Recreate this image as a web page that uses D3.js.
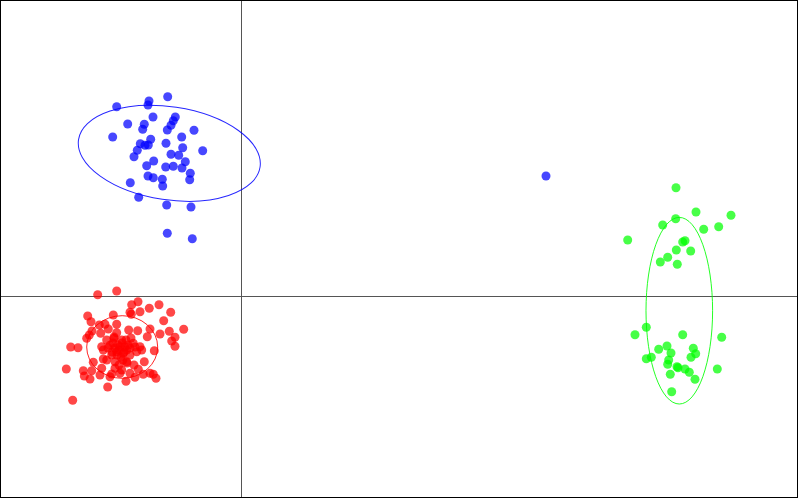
<!DOCTYPE html>
<html><head><meta charset="utf-8">
<script src="https://cdn.jsdelivr.net/npm/d3@7"></script>
<style>html,body{margin:0;padding:0;background:#fff;}svg{display:block;}</style>
</head><body>
<svg id="chart" width="798" height="498"></svg>
<script>
const groups = ["A", "B", "C"];
const groupColors = ["#ff0000", "#0000ff", "#00ff00"];

const blueX = [-12.43,-9.20,-9.30,-7.33,-8.80,-6.57,-6.77,-7.00,-7.37,-11.33,-9.67,-9.83,-4.70,-12.83,-5.93,-9.03,-10.07,-9.60,-9.27,-7.50,-5.83,-3.83,-10.37,-10.70,-7.00,-6.23,-8.73,-5.57,-9.43,-7.53,-6.77,-5.90,-5.07,-9.30,-8.77,-7.87,-5.13,-11.07,-7.83,-10.23,-7.43,-5.00,-7.37,-4.87,30.50];
const blueY = [18.93,19.50,19.10,19.93,17.90,17.90,17.53,17.07,16.60,17.20,17.17,16.67,16.57,15.90,15.90,15.67,15.23,15.07,15.10,15.27,14.83,14.53,14.57,13.93,14.17,14.07,13.50,13.43,13.03,12.90,12.97,12.80,12.27,12.00,11.83,11.67,11.63,11.33,11.00,9.87,9.10,8.90,6.27,5.73,12.00];

const redX = [-14.33,-12.43,-10.93,-10.30,-9.17,-8.20,-10.10,-11.10,-10.97,-7.03,-15.33,-12.77,-15.00,-7.73,-14.17,-13.60,-12.43,-5.73,-9.10,-7.17,-14.90,-14.03,-13.27,-10.33,-11.23,-8.10,-12.43,-15.17,-15.43,-6.60,-9.37,-6.93,-6.60,-12.70,-11.93,-10.77,-17.03,-16.30,-13.43,-13.10,-13.93,-12.10,-10.10,-8.67,-9.93,-11.43,-12.43,-13.77,-11.10,-10.43,-12.93,-11.77,-13.77,-14.77,-12.60,-11.43,-9.67,-10.70,-13.43,-17.47,-15.77,-14.93,-13.93,-12.60,-11.93,-10.27,-15.67,-15.10,-14.10,-13.10,-12.93,-12.10,-11.10,-10.60,-9.77,-9.10,-8.77,-8.50,-11.50,-13.33,-16.83,-12.30,-11.90,-11.60,-12.20,-12.60,-11.30,-11.70,-12.40,-12.00,-12.80,-11.50,-11.10,-12.90,-10.60,-11.80,-13.30,-11.00,-11.40,-12.20,-12.70];
const redY = [0.13,0.50,-0.87,-0.57,-1.23,-0.87,-1.57,-1.63,-1.83,-1.63,-2.00,-1.90,-2.57,-2.47,-2.90,-2.83,-2.83,-3.33,-3.30,-3.53,-3.50,-3.73,-3.30,-3.47,-3.40,-3.80,-3.67,-3.90,-4.23,-4.13,-4.07,-4.50,-5.03,-4.23,-4.40,-4.73,-5.10,-5.17,-4.40,-4.93,-5.07,-5.07,-5.07,-5.47,-5.40,-5.40,-5.57,-5.40,-5.90,-5.57,-5.90,-5.73,-6.30,-6.63,-6.57,-6.57,-6.57,-6.90,-6.40,-7.30,-7.47,-7.47,-7.23,-7.23,-7.40,-7.33,-8.00,-8.30,-7.90,-8.07,-7.80,-7.73,-7.73,-8.13,-7.83,-7.73,-7.83,-8.23,-8.53,-9.10,-10.43,-4.90,-4.70,-5.10,-5.40,-5.20,-4.90,-5.60,-5.90,-6.10,-4.70,-4.40,-5.20,-5.60,-5.10,-6.40,-5.20,-4.20,-6.70,-6.90,-4.10];

const greenX = [43.50,45.50,49.00,43.47,42.17,47.77,46.27,38.67,44.40,44.17,43.53,44.97,42.67,41.93,43.63,40.53,39.40,44.17,48.07,42.60,41.77,45.23,43.00,45.47,45.00,40.53,41.03,42.77,42.67,43.60,44.40,44.83,47.63,42.93,45.40,43.07,43.70];
const greenY = [10.83,8.40,8.07,7.73,7.10,6.93,6.67,5.60,5.53,5.40,4.60,4.50,3.87,3.40,3.17,-3.13,-3.87,-3.87,-4.13,-5.00,-5.33,-5.23,-5.70,-5.77,-6.13,-6.27,-6.13,-6.40,-6.83,-7.07,-7.30,-7.63,-7.30,-7.83,-8.33,-9.57,-7.17];

// ellipse parameters per group: centre, semi-axes (data units), rotation (deg, counter-clockwise)
const ellCX = [-11.88, -7.17, 43.83];
const ellCY = [-5.10, 14.27, -1.47];
const ellRX = [3.55, 9.18, 3.33];
const ellRY = [3.13, 4.65, 9.33];
const ellAngle = [0, -8.6, 0];

const xDomain = [-24.1, 55.7];
const yDomain = [-20.2, 29.6];

const W = 798, H = 498;
const svg = d3.select("#chart");
const x = d3.scaleLinear().domain(xDomain).range([0, W]);
const y = d3.scaleLinear().domain(yDomain).range([H, 0]);

// zero lines
svg.append("line").attr("x1", 0).attr("x2", W)
  .attr("y1", Math.round(y(0)) + 0.5).attr("y2", Math.round(y(0)) + 0.5)
  .attr("stroke", "#555").attr("stroke-width", 1);
svg.append("line").attr("y1", 0).attr("y2", H)
  .attr("x1", Math.round(x(0)) + 0.5).attr("x2", Math.round(x(0)) + 0.5)
  .attr("stroke", "#555").attr("stroke-width", 1);

const seriesX = [redX, blueX, greenX];
const seriesY = [redY, blueY, greenY];

groups.forEach((g, i) => {
  const pts = seriesX[i].map((v, k) => ({x: v, y: seriesY[i][k]}));
  svg.append("g").selectAll("circle").data(pts).join("circle")
    .attr("cx", d => x(d.x)).attr("cy", d => y(d.y)).attr("r", 4.5)
    .attr("fill", groupColors[i]).attr("fill-opacity", 0.72);
  const cx = x(ellCX[i]), cy = y(ellCY[i]);
  const rx = x(ellCX[i] + ellRX[i]) - cx;
  const ry = cy - y(ellCY[i] + ellRY[i]);
  svg.append("ellipse")
    .attr("cx", 0).attr("cy", 0).attr("rx", rx).attr("ry", ry)
    .attr("transform", `translate(${cx},${cy}) rotate(${-ellAngle[i]})`)
    .attr("fill", "none").attr("stroke", groupColors[i]).attr("stroke-opacity", 0.85).attr("stroke-width", 1);
});

// border
svg.append("rect").attr("x", 0.5).attr("y", 0.5).attr("width", W - 1).attr("height", H - 1)
  .attr("fill", "none").attr("stroke", "#000").attr("stroke-width", 1);
</script>
</body></html>
